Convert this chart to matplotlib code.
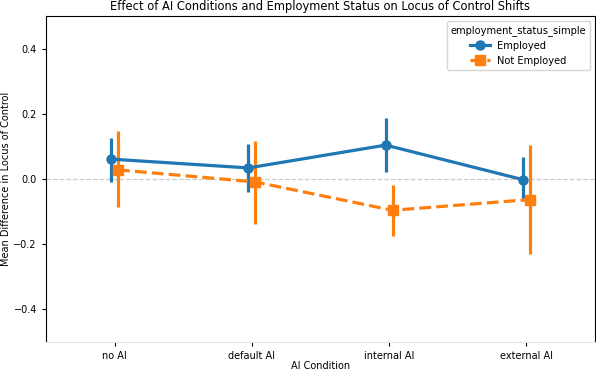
import numpy as np
import matplotlib
matplotlib.use("Agg")
import matplotlib.pyplot as plt


conditions = ["no AI", "default AI", "internal AI", "external AI"]

# employed: mean and 95% CI
emp_mean = [0.061, 0.034, 0.104, -0.002]
emp_lo = [-0.010, -0.041, 0.021, -0.068]
emp_hi = [0.125, 0.108, 0.187, 0.068]

# not employed
notemp_mean = [0.028, -0.009, -0.096, -0.063]
notemp_lo = [-0.087, -0.137, -0.175, -0.231]
notemp_hi = [0.147, 0.117, -0.017, 0.105]

groups = ["Employed", "Not Employed"]


def draw_group(ax, xpos, mean, lo, hi, color, marker, ls, label):
    mean = np.array(mean)
    yerr = [mean - np.array(lo), np.array(hi) - mean]
    ax.errorbar(xpos, mean, yerr=yerr, fmt="none", ecolor=color,
                elinewidth=2.3, capsize=0, zorder=3)
    ax.plot(xpos, mean, color=color, marker=marker, linestyle=ls,
            linewidth=2.3, markersize=6.5, label=label, zorder=4)


def main():
    fig = plt.figure(figsize=(5.96, 3.70), dpi=100)
    ax = fig.add_axes([46 / 596, 1 - 342 / 370, 549 / 596, 326 / 370])

    x = np.arange(len(conditions))
    draw_group(ax, x - 0.025, emp_mean, emp_lo, emp_hi,
               "#1f77b4", "o", "-", groups[0])
    draw_group(ax, x + 0.025, notemp_mean, notemp_lo, notemp_hi,
               "#ff7f0e", "s", "--", groups[1])

    ax.axhline(0, color="#cccccc", linestyle="--", linewidth=0.9, zorder=1)

    ax.set_xlim(-0.5, 3.5)
    ax.set_ylim(-0.5, 0.5)
    ax.set_xticks(x)
    ax.set_xticklabels(conditions)
    ax.set_yticks([-0.4, -0.2, 0.0, 0.2, 0.4])
    ax.tick_params(labelsize=7, length=3)
    ax.spines["bottom"].set_color("#e4e4e4")

    ax.set_xlabel("AI Condition", fontsize=7)
    ax.xaxis.set_label_coords(0.5, -0.057)
    ax.set_ylabel("Mean Difference in Locus of Control", fontsize=7)
    ax.yaxis.set_label_coords(-0.064, 0.5)
    ax.set_title("Effect of AI Conditions and Employment Status on Locus of Control Shifts",
                 fontsize=8.3, pad=4)

    ax.legend(title="employment_status_simple", loc="upper right",
              fontsize=7.1, title_fontsize=7.1)

    fig.savefig("out.png", dpi=100)
    plt.close(fig)


if __name__ == "__main__":
    main()
